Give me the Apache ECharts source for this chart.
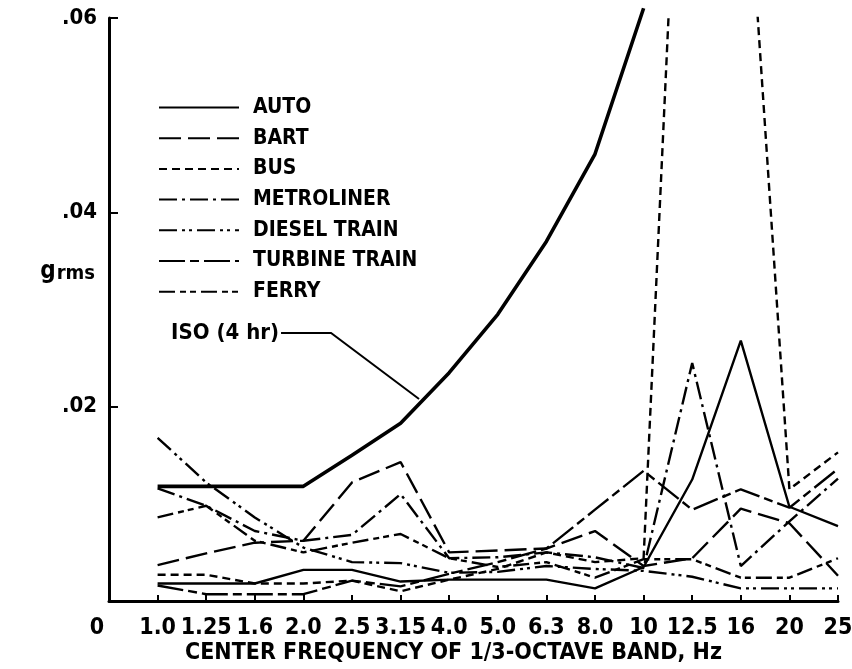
<!DOCTYPE html>
<html>
<head>
<meta charset="utf-8">
<script src="https://cdn.jsdelivr.net/npm/echarts@6/dist/echarts.min.js"></script>
<style>
html,body{margin:0;padding:0;background:#fff;}
#chart{width:852px;height:669px;}
</style>
</head>
<body>
<div id="chart"></div>
<script>
// ---- data ----
const categories = ['1.0','1.25','1.6','2.0','2.5','3.15','4.0','5.0','6.3','8.0','10','12.5','16','20','25'];
const yTicks = [0, 0.02, 0.04, 0.06];
const yTickLabels = ['', '.02', '.04', '.06'];
const iso4hr   = [0.0118,0.0118,0.0118,0.0118,0.0150,0.0183,0.0235,0.0295,0.0370,0.0460,0.0610,null,null,null,null];
const auto     = [0.0018,0.0018,0.0018,0.0032,0.0032,0.0020,0.0022,0.0022,0.0022,0.0013,0.0035,0.0125,0.0268,0.0097,0.0077];
const bart     = [0.0037,0.0049,0.0060,0.0062,0.0122,0.0143,0.0050,0.0052,0.0054,0.0072,0.0036,0.0044,0.0095,0.0080,0.0026];
const bus      = [0.0027,0.0027,0.0018,0.0018,0.0021,0.0010,0.0022,0.0033,0.0050,0.0040,0.0044,0.1130,0.0860,0.0115,0.0153];
const metroliner = [0.0116,0.0098,0.0072,0.0062,0.0068,0.0110,0.0044,0.0045,0.0050,0.0045,0.0034,0.0245,0.0036,0.0082,0.0126];
const dieselTrain = [0.0168,0.0122,0.0086,0.0055,0.0040,0.0039,0.0029,0.0030,0.0036,0.0033,0.0031,0.0025,0.0013,0.0013,0.0013];
const turbineTrain = [0.0016,0.0007,0.0007,0.0007,0.0021,0.0015,0.0028,0.0040,0.0054,0.0094,0.0134,0.0094,0.0115,0.0096,0.0136];
const ferry    = [0.0086,0.0098,0.0062,0.0050,0.0060,0.0069,0.0044,0.0035,0.0040,0.0024,0.0043,0.0043,0.0024,0.0024,0.0044];

const seriesNames = ['AUTO','BART','BUS','METROLINER','DIESEL TRAIN','TURBINE TRAIN','FERRY'];
const seriesValues = [auto, bart, bus, metroliner, dieselTrain, turbineTrain, ferry];
const dashTypes = ['solid', [22,7], [8,5], [18,5,3,5], [18,5,3,4,3,5], [26,5,9,5], [16,5,6,4,6,5]];

const FONT = "'Liberation Sans Narrow','DejaVu Sans Condensed','Liberation Sans',sans-serif";
const toPairs = arr => arr.map((v,i) => [i+1, v]);

const chart = echarts.init(document.getElementById('chart'), null, {renderer:'canvas'});

const series = seriesNames.map((name, k) => ({
  name: name,
  type: 'line',
  data: toPairs(seriesValues[k]),
  symbol: 'none',
  clip: true,
  lineStyle: {color:'#000', width: 2.4, type: dashTypes[k]},
  itemStyle: {color:'#000'},
  emphasis: {disabled: true},
  animation: false
}));
series.push({
  name: 'ISO (4 hr)',
  type: 'line',
  data: toPairs(iso4hr),
  symbol: 'none',
  clip: false,
  lineStyle: {color:'#000', width: 3.6},
  itemStyle: {color:'#000'},
  animation: false
});

chart.setOption({
  backgroundColor: '#fff',
  animation: false,
  grid: {left: 109, right: 14, top: 18, bottom: 68, containLabel: false, outerBoundsMode: 'none'},
  legend: {
    data: seriesNames,
    orient: 'vertical',
    left: 158,
    top: 97,
    padding: 0,
    itemWidth: 80,
    itemHeight: 20,
    itemGap: 9.7,
    itemStyle: {opacity: 0},
    textStyle: {fontFamily: FONT, fontWeight: 'bold', fontSize: 21, color: '#000', padding: [0,0,0,9]},
    selectedMode: false
  },
  xAxis: {
    type: 'value', min: 0, max: 15, interval: 1,
    name: 'CENTER FREQUENCY OF 1/3-OCTAVE BAND, Hz',
    nameLocation: 'middle', nameGap: 41,
    nameMoveOverlap: false,
    nameTextStyle: {fontFamily: FONT, fontWeight: 'bold', fontSize: 23, color: '#000', padding: [0,40,0,0]},
    axisLine: {onZero: false, lineStyle: {color: '#000', width: 3}},
    axisTick: {inside: true, length: 6, lineStyle: {color:'#000', width: 2}},
    splitLine: {show: false},
    axisLabel: {
      margin: 16, color: '#000', fontFamily: FONT, fontWeight: 'bold', fontSize: 23,
      formatter: v => v === 0 ? '{z|0}' : categories[v-1],
      rich: {z: {fontFamily: FONT, fontWeight: 'bold', fontSize: 23, color:'#000', padding: [0,24,0,0]}}
    }
  },
  yAxis: {
    type: 'value', min: yTicks[0], max: yTicks[yTicks.length-1], interval: 0.02,
    name: '{g|g}{s|rms}',
    nameLocation: 'middle', nameGap: 14, nameRotate: 0,
    nameMoveOverlap: false,
    nameTextStyle: {
      align: 'right',
      padding: [0,0,88,0],
      rich: {
        g: {fontFamily: FONT, fontWeight: 'bold', fontSize: 24, color:'#000', verticalAlign:'bottom'},
        s: {fontFamily: FONT, fontWeight: 'bold', fontSize: 20, color:'#000', padding:[16,0,0,1]}
      }
    },
    axisLine: {show: true, lineStyle: {color:'#000', width: 3}},
    axisTick: {show: true, inside: true, length: 9, lineStyle: {color:'#000', width: 2}},
    splitLine: {show: false},
    axisLabel: {
      margin: 12, color:'#000', fontFamily: FONT, fontWeight: 'bold', fontSize: 22,
      formatter: v => yTickLabels[yTicks.findIndex(t => Math.abs(t - v) < 1e-9)] || ''
    }
  },
  series: series
});

// ISO annotation with leader line, anchored on the ISO curve
const anchorIdx = 6.4;
const lo = Math.floor(anchorIdx), f = anchorIdx - lo;
const anchorVal = iso4hr[lo-1] + f * (iso4hr[lo] - iso4hr[lo-1]);
const p = chart.convertToPixel({gridIndex: 0}, [anchorIdx, anchorVal]);
const end = [p[0] - 1, p[1] - 4];
const elbow = [end[0] - 88, end[1] - 66];
const start = [elbow[0] - 50, elbow[1]];
chart.setOption({
  graphic: [
    {type:'polyline', shape:{points:[start, elbow, end]}, style:{stroke:'#000', lineWidth:2, fill:null}, silent:true},
    {type:'text', x: start[0] - 2, y: start[1], style:{text:'ISO (4 hr)', fill:'#000', font:"bold 22px " + FONT, textAlign:'right', textVerticalAlign:'middle'}, silent:true}
  ]
});
</script>
</body>
</html>
